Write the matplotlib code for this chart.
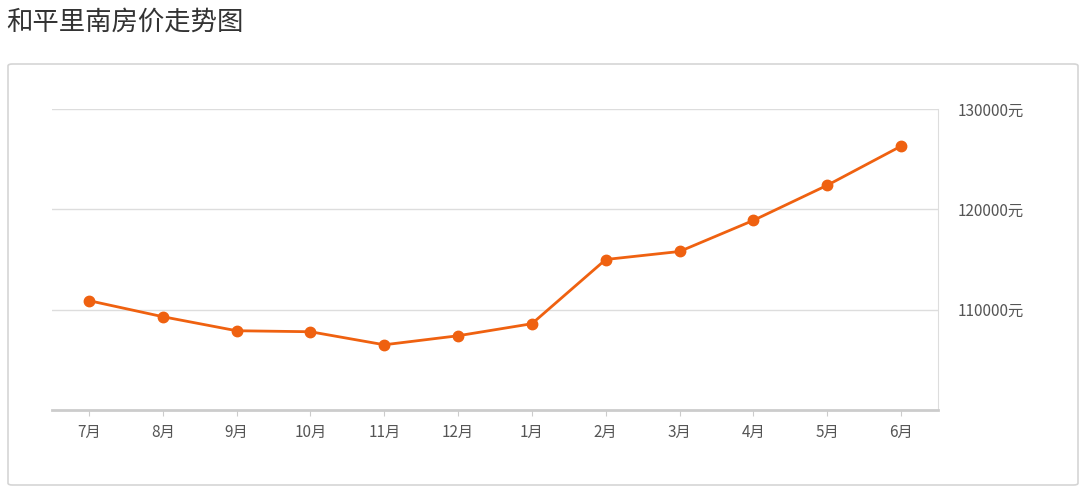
import matplotlib.pyplot as plt
from matplotlib.patches import FancyBboxPatch

plt.rcParams['font.family'] = ['Noto Sans CJK SC', 'DejaVu Sans']

months = ['7月', '8月', '9月', '10月', '11月', '12月', '1月', '2月', '3月', '4月', '5月', '6月']
prices = [110900, 109300, 107900, 107800, 106500, 107400, 108600, 115000, 115800, 118900, 122400, 126300]
yticks = [110000, 120000, 130000]
ytick_labels = ['110000元', '120000元', '130000元']

fig = plt.figure(figsize=(10.8, 4.88), dpi=100)
fig.text(0.006, 0.955, '和平里南房价走势图', fontsize=19, color='#333333', va='center')

# 外框
box = FancyBboxPatch((8/1080, 3/488), 1070/1080, 421/488, boxstyle='round,pad=0,rounding_size=0.004',
	transform=fig.transFigure, facecolor='white', edgecolor='#d5d5d5', linewidth=1.2, zorder=-1)
fig.patches.append(box)

ax = fig.add_axes([52/1080, 78/488, 886/1080, 301/488])
ax.set_zorder(2)
ax.patch.set_alpha(0)
ax.plot(range(len(months)), prices, color='#ef6110', linewidth=2, marker='o', markersize=7.5)
ax.set_xlim(-0.5, len(months) - 0.5)
ax.set_ylim(100000, 130000)
ax.set_xticks(range(len(months)), months)
ax.set_yticks(yticks, ytick_labels)
ax.yaxis.tick_right()
ax.grid(axis='y', color='#dddddd', linewidth=1)
ax.set_axisbelow(True)
for s in ['top', 'left']:
	ax.spines[s].set_visible(False)
ax.spines['right'].set_color('#dddddd')
ax.spines['bottom'].set_color('#cccccc')
ax.spines['bottom'].set_linewidth(2)
ax.tick_params(axis='x', colors='#555555', labelsize=11, length=4, color='#cccccc', pad=6)
ax.tick_params(axis='y', colors='#555555', labelsize=11, length=0, pad=14)

fig.savefig('out.png', dpi=100)
